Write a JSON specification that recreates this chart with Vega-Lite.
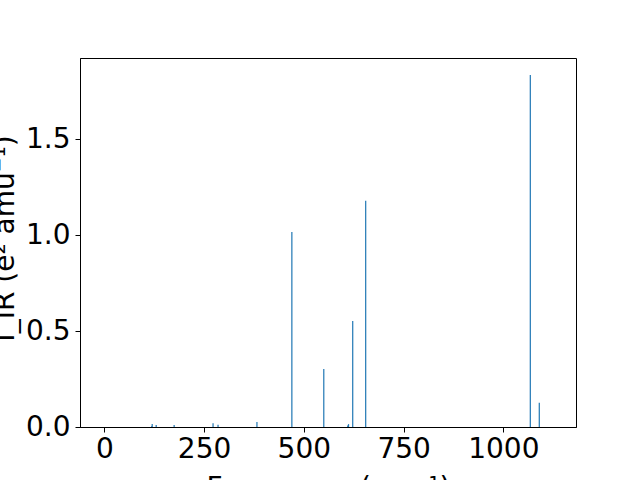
{
  "$schema": "https://vega.github.io/schema/vega-lite/v6.json",
  "width": 496,
  "height": 369,
  "autosize": {"type": "none"},
  "padding": {"left": 80, "top": 58, "right": 64, "bottom": 53},
  "background": "white",
  "config": {
    "view": {"stroke": "black", "strokeWidth": 1},
    "font": "DejaVu Sans",
    "axis": {
      "grid": false,
      "domainColor": "black",
      "domainWidth": 1,
      "tickColor": "black",
      "tickSize": 5,
      "tickWidth": 1,
      "labelFont": "DejaVu Sans",
      "labelFontSize": 28,
      "labelColor": "black",
      "titleFont": "DejaVu Sans",
      "titleFontSize": 28,
      "titleFontWeight": "normal",
      "titleColor": "black"
    }
  },
  "data": {
    "values": [
      {"freq": 118.5, "intensity": 0.004},
      {"freq": 120, "intensity": 0.016},
      {"freq": 130, "intensity": 0.01},
      {"freq": 175, "intensity": 0.01},
      {"freq": 272.5, "intensity": 0.02},
      {"freq": 285, "intensity": 0.012},
      {"freq": 382.5, "intensity": 0.026},
      {"freq": 470, "intensity": 1.017},
      {"freq": 550, "intensity": 0.302},
      {"freq": 610, "intensity": 0.008},
      {"freq": 612, "intensity": 0.015},
      {"freq": 622.5, "intensity": 0.553},
      {"freq": 655, "intensity": 1.18},
      {"freq": 1067.5, "intensity": 1.835},
      {"freq": 1090, "intensity": 0.127}
    ]
  },
  "mark": {"type": "rule", "color": "#1f77b4", "strokeWidth": 1.2},
  "encoding": {
    "x": {
      "field": "freq",
      "type": "quantitative",
      "scale": {"domain": [-60.9, 1182], "nice": false, "zero": false},
      "axis": {
        "values": [0, 250, 500, 750, 1000],
        "format": "d",
        "labelPadding": 3,
        "title": "Frequency (cm⁻¹)",
        "titleBaseline": "alphabetic",
        "titleX": 248,
        "titleY": 69
      }
    },
    "y": {
      "field": "intensity",
      "type": "quantitative",
      "scale": {"domain": [0, 1.924], "nice": false, "zero": true},
      "axis": {
        "values": [0, 0.5, 1.0, 1.5],
        "format": ".1f",
        "labelPadding": 5,
        "title": "I_IR (e² amu⁻¹)",
        "titleAngle": -90,
        "titleBaseline": "alphabetic",
        "titleX": -67,
        "titleY": 180
      }
    },
    "y2": {"datum": 0}
  }
}
